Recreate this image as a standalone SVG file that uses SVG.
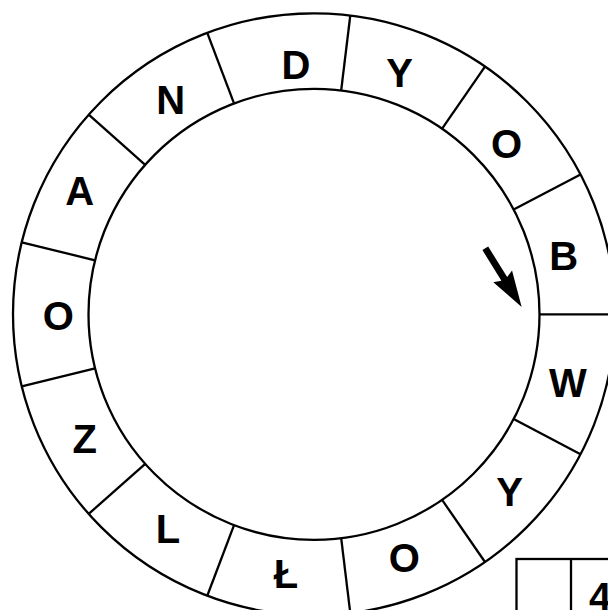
<svg xmlns="http://www.w3.org/2000/svg" width="608" height="610" viewBox="0 0 608 610">
<style>
.ring{fill:none;stroke:#000;stroke-width:2.3}
.div{stroke:#000;stroke-width:2.3}
.lt{font-family:"Liberation Sans",Arial,sans-serif;font-weight:bold;font-size:40px;text-anchor:middle;fill:#000}
</style>
<rect width="608" height="610" fill="#fff"/>
<g id="ring">
<circle class="ring" cx="314" cy="314.3" r="301"/>
<circle class="ring" cx="314" cy="314.3" r="225.5"/>
</g>
<g id="dividers" transform="translate(314 314.3)">
<line class="div" x1="225.5" y1="0" x2="301" y2="0"/>
<line class="div" x1="225.5" y1="0" x2="301" y2="0" transform="rotate(-27.6923)"/>
<line class="div" x1="225.5" y1="0" x2="301" y2="0" transform="rotate(-55.3846)"/>
<line class="div" x1="225.5" y1="0" x2="301" y2="0" transform="rotate(-83.0769)"/>
<line class="div" x1="225.5" y1="0" x2="301" y2="0" transform="rotate(-110.7692)"/>
<line class="div" x1="225.5" y1="0" x2="301" y2="0" transform="rotate(-138.4615)"/>
<line class="div" x1="225.5" y1="0" x2="301" y2="0" transform="rotate(-166.1538)"/>
<line class="div" x1="225.5" y1="0" x2="301" y2="0" transform="rotate(-193.8462)"/>
<line class="div" x1="225.5" y1="0" x2="301" y2="0" transform="rotate(-221.5385)"/>
<line class="div" x1="225.5" y1="0" x2="301" y2="0" transform="rotate(-249.2308)"/>
<line class="div" x1="225.5" y1="0" x2="301" y2="0" transform="rotate(-276.9231)"/>
<line class="div" x1="225.5" y1="0" x2="301" y2="0" transform="rotate(-304.6154)"/>
<line class="div" x1="225.5" y1="0" x2="301" y2="0" transform="rotate(-332.3077)"/>
</g>
<g id="seg-B"><text class="lt" x="563.6" y="269.5">B</text></g>
<g id="seg-O1"><text class="lt" x="506.6" y="158.3">O</text></g>
<g id="seg-Y1"><text class="lt" x="399.5" y="87">Y</text></g>
<g id="seg-D"><text class="lt" x="296" y="79.4">D</text></g>
<g id="seg-N"><text class="lt" x="170.6" y="114.3">N</text></g>
<g id="seg-A"><text class="lt" x="79.6" y="204.8">A</text></g>
<g id="seg-O2"><text class="lt" x="58.2" y="329.6">O</text></g>
<g id="seg-Z"><text class="lt" x="84.8" y="453">Z</text></g>
<g id="seg-L"><text class="lt" x="168" y="542.5">L</text></g>
<g id="seg-L2"><text class="lt" x="286" y="587.5">Ł</text></g>
<g id="seg-O3"><text class="lt" x="404.2" y="572">O</text></g>
<g id="seg-Y2"><text class="lt" x="509.5" y="506">Y</text></g>
<g id="seg-W"><text class="lt" x="568" y="397.4">W</text></g>
<g id="connectors">
<polygon fill="#000" transform="translate(485.3 248.3) rotate(58.2)" points="0,-3.4 36,-3.4 33,-11 69,0 33,11 36,3.4 0,3.4"/>
</g>
<g id="box">
<rect class="ring" x="516.5" y="559" width="120" height="100"/>
<line class="div" x1="571" y1="559" x2="571" y2="612"/>
<text class="lt" x="600" y="611">4</text>
</g>
</svg>
